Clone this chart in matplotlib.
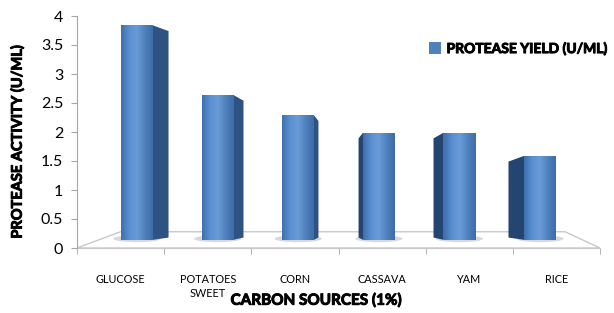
import matplotlib
matplotlib.use("Agg")
import matplotlib.pyplot as plt
import matplotlib.patheffects as pe
import numpy as np
from matplotlib.patches import Polygon, Ellipse
from matplotlib.colors import LinearSegmentedColormap

# ---- data ----
categories = ["GLUCOSE", "POTATOES\nSWEET", "CORN", "CASSAVA", "YAM", "RICE"]
protease_yield = [3.7, 2.5, 2.15, 1.85, 1.85, 1.45]
y_ticks = [0, 0.5, 1, 1.5, 2, 2.5, 3, 3.5, 4]
y_tick_labels = ["0", "0.5", "1", "1.5", "2", "2.5", "3", "3.5", "4"]
series_name = "PROTEASE YIELD (U/ML)"
x_title = "CARBON SOURCES (1%)"
y_title = "PROTEASE ACTIVITY (U/ML)"

# ---- style ----
FONT = ["Lato", "DejaVu Sans"]
plt.rcParams["font.family"] = FONT
FRONT = "#4F81BD"
SIDE = "#2E5382"
AXIS_GREY = "#A6A6A6"
FLOOR_OFF = 0.14      # visual depth offset of the 3D floor
FLOOR_BACK = 0.28
BAR_W = 0.36
BOLD_FX = [pe.withStroke(linewidth=0.7, foreground="black")]

W, H = 614, 313
fig = plt.figure(figsize=(W / 100, H / 100), dpi=100)
ax = fig.add_axes([77 / W, (H - 248) / H, 523 / W, 232 / H])
n = len(categories)
ax.set_xlim(0, n)
ax.set_ylim(0, 4)

# floor
floor = Polygon([(0, 0), (0.5, FLOOR_BACK), (n - 0.4, FLOOR_BACK), (n, 0)],
                closed=True, facecolor="white", edgecolor="#C8C8C8", lw=1.0, zorder=1)
ax.add_patch(floor)

cmap = LinearSegmentedColormap.from_list("face", ["#3F6FAE", "#5A8FD0", "#6A9BD8", "#4F81BD", "#3E6DA8"])
grad = np.linspace(0, 1, 64).reshape(1, -1)

centers = np.arange(n) + 0.5
mid = n / 2
for i, v in enumerate(protease_yield):
    shift = -0.075 * (centers[i] - mid)
    xc = centers[i] + shift
    x0, x1 = xc - BAR_W / 2, xc + BAR_W / 2
    bottom, top = FLOOR_OFF, FLOOR_OFF + v
    ax.add_patch(Ellipse((xc, bottom + 0.02), BAR_W * 1.5, 0.12, facecolor="#D9D9D9",
                         edgecolor="none", zorder=2))
    s = 0.065 * abs(centers[i] - mid) + 0.02
    if centers[i] < mid:
        side = [(x1, bottom), (x1 + s, bottom + 0.04), (x1 + s, top - 0.1), (x1, top)]
        side_col = SIDE
    else:
        side = [(x0, bottom), (x0 - s, bottom + 0.04), (x0 - s, top - 0.1), (x0, top)]
        side_col = "#24456F"
    ax.add_patch(Polygon(side, closed=True, facecolor=side_col, edgecolor="none", zorder=3))
    bars = ax.bar([xc], [v], bottom=bottom, width=BAR_W, color=FRONT, edgecolor="none",
                  zorder=4, label=series_name if i == 0 else None)
    im = ax.imshow(grad, cmap=cmap, aspect="auto", extent=(x0, x1, bottom, top), zorder=5)
    im.set_clip_path(bars.patches[0])

for sp in ["top", "right"]:
    ax.spines[sp].set_visible(False)
ax.spines["left"].set_color(AXIS_GREY)
ax.spines["bottom"].set_color("#C8C8C8")
ax.spines["left"].set_zorder(6)

ax.set_yticks(y_ticks)
ax.set_yticklabels(y_tick_labels, fontsize=11.5)
ax.tick_params(axis="y", length=4, color=AXIS_GREY, pad=6)

ax.set_xticks(centers)
ax.set_xticklabels(categories, fontsize=7.8, linespacing=1.25)
ax.tick_params(axis="x", which="major", length=0, pad=19)
ax.set_xticks(np.arange(n + 1), minor=True)
ax.tick_params(axis="x", which="minor", length=4, color=AXIS_GREY)

yl = ax.set_ylabel(y_title, fontsize=10.5, fontweight="bold")
yl.set_path_effects(BOLD_FX)
ax.yaxis.set_label_coords(-0.10, 0.457)
xl = ax.set_xlabel(x_title, fontsize=11, fontweight="bold")
xl.set_path_effects(BOLD_FX)
ax.xaxis.set_label_coords(0.457, -0.195)

leg = ax.legend(loc="upper left", bbox_to_anchor=(416 / W, 1 - 30 / H),
                bbox_transform=fig.transFigure, frameon=False,
                handlelength=0.9, handleheight=0.9, handletextpad=0.4,
                prop={"weight": "bold", "size": 10})
for t in leg.get_texts():
    t.set_path_effects(BOLD_FX)

fig.savefig("out.png", dpi=100)
